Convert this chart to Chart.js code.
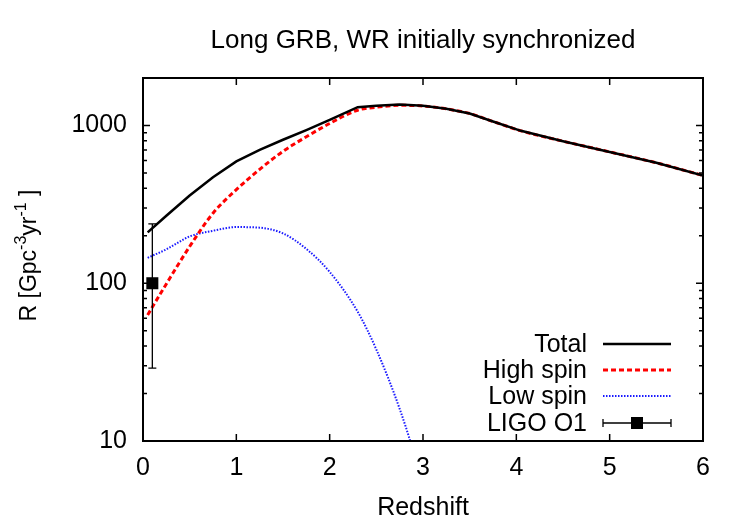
<!DOCTYPE html>
<html>
<head>
<meta charset="utf-8">
<script src="https://cdn.jsdelivr.net/npm/chart.js@4.4.0/dist/chart.umd.min.js"></script>
<style>
  html, body { margin: 0; padding: 0; background: #fff; }
  #wrap { width: 750px; height: 525px; }
</style>
</head>
<body>
<div id="wrap"><canvas id="myChart" width="750" height="525"></canvas></div>
<script>
// Redshift grid shared by the model curves
var redshift  = [0.05, 0.25, 0.5, 0.75, 1.0, 1.25, 1.5, 1.75, 2.0, 2.3, 2.5, 2.75, 3.0, 3.25, 3.5, 3.75, 4.05, 4.5, 5.0, 5.5, 6.0];
var totalRate = [210, 268, 360, 470, 592, 700, 812, 935, 1085, 1306, 1335, 1360, 1335, 1275, 1190, 1060, 925, 795, 680, 580, 482];
var highSpin  = [63, 99, 171, 278, 392, 527, 686, 848, 1030, 1250, 1305, 1342, 1330, 1275, 1190, 1060, 925, 795, 680, 580, 482];
var lowSpin   = [145, 164, 198, 215, 227, 225, 207, 165, 118, 66, 38, 16, 5.5, null, null, null, null, null, null, null, null];

// LIGO O1 point with its error bar
var ligoZ    = [0.1];
var ligoRate = [100];
var ligoLow  = [29];
var ligoHigh = [238];

var xTicks = [0, 1, 2, 3, 4, 5, 6];
var yTicks = [10, 100, 1000];

var fontName = '"Liberation Sans", Arial, sans-serif';

function pts(xs, ys) {
  var out = [];
  for (var i = 0; i < xs.length; i++) {
    out.push({ x: xs[i], y: ys[i] });
  }
  return out;
}

// marcos, ticks hacia dentro, barra de error y leyenda al estilo gnuplot
var gnuplotStyle = {
  id: 'gnuplotStyle',
  afterDatasetsDraw: function (chart) {
    var ctx = chart.ctx, x = chart.scales.x, y = chart.scales.y;
    ctx.save();
    ctx.strokeStyle = '#000';
    ctx.lineWidth = 1.3;
    for (var i = 0; i < ligoZ.length; i++) {
      var px = x.getPixelForValue(ligoZ[i]);
      var top = y.getPixelForValue(ligoHigh[i]);
      var bot = y.getPixelForValue(ligoLow[i]);
      ctx.beginPath();
      ctx.moveTo(px, top); ctx.lineTo(px, bot);
      ctx.moveTo(px - 4, top); ctx.lineTo(px + 4, top);
      ctx.moveTo(px - 4, bot); ctx.lineTo(px + 4, bot);
      ctx.stroke();
    }
    ctx.restore();
  },
  afterDraw: function (chart) {
    var ctx = chart.ctx, a = chart.chartArea;
    var x = chart.scales.x, y = chart.scales.y;
    ctx.save();
    ctx.strokeStyle = '#000';
    ctx.lineWidth = 2;
    ctx.strokeRect(a.left, a.top, a.right - a.left, a.bottom - a.top);

    ctx.lineWidth = 1.5;
    ctx.beginPath();
    xTicks.forEach(function (v) {
      var px = x.getPixelForValue(v);
      ctx.moveTo(px, a.bottom); ctx.lineTo(px, a.bottom - 7);
      ctx.moveTo(px, a.top); ctx.lineTo(px, a.top + 7);
    });
    yTicks.forEach(function (d) {
      for (var m = 1; m <= 9; m++) {
        var v = m * d;
        if (v >= y.max) break;
        var py = y.getPixelForValue(v);
        var len = (m === 1) ? 7 : 4;
        ctx.moveTo(a.left, py); ctx.lineTo(a.left + len, py);
        ctx.moveTo(a.right, py); ctx.lineTo(a.right - len, py);
      }
    });
    ctx.stroke();

    // titulo eje Y con superindices
    var parts = [['R [Gpc', 0], ['-3', 1], ['yr', 0], ['-1', 1], [' ]', 0]];
    var big = '23px ' + fontName, small = '16px ' + fontName;
    var total = 0;
    parts.forEach(function (p) {
      ctx.font = p[1] ? small : big;
      total += ctx.measureText(p[0]).width;
    });
    ctx.translate(36, (a.top + a.bottom) / 2 - 4);
    ctx.rotate(-Math.PI / 2);
    ctx.fillStyle = '#000';
    ctx.textBaseline = 'alphabetic';
    ctx.textAlign = 'left';
    var cx = -total / 2;
    parts.forEach(function (p) {
      ctx.font = p[1] ? small : big;
      ctx.fillText(p[0], cx, p[1] ? -10 : 0);
      cx += ctx.measureText(p[0]).width;
    });
    ctx.restore();

    // leyenda
    ctx.save();
    var rows = [344, 370, 396, 423];
    var textRight = 587, s0 = 603, s1 = 671;
    ctx.font = '25px ' + fontName;
    ctx.textAlign = 'right';
    ctx.textBaseline = 'middle';
    chart.data.datasets.forEach(function (ds, i) {
      var ry = rows[i];
      ctx.fillStyle = '#000';
      ctx.fillText(ds.label, textRight, ry + 1);
      ctx.beginPath();
      if (ds.type === 'scatter') {
        ctx.setLineDash([]);
        ctx.strokeStyle = '#000';
        ctx.lineWidth = 1.3;
        ctx.moveTo(s0, ry); ctx.lineTo(s1, ry);
        ctx.moveTo(s0, ry - 4); ctx.lineTo(s0, ry + 4);
        ctx.moveTo(s1, ry - 4); ctx.lineTo(s1, ry + 4);
        ctx.stroke();
        ctx.fillRect((s0 + s1) / 2 - 6, ry - 6, 12, 12);
      } else {
        ctx.setLineDash(ds.borderDash || []);
        ctx.strokeStyle = ds.borderColor;
        ctx.lineWidth = ds.borderWidth;
        ctx.moveTo(s0, ry); ctx.lineTo(s1, ry);
        ctx.stroke();
      }
    });
    ctx.restore();
  }
};

var ctx = document.getElementById('myChart');
var myChart = new Chart(ctx, {
  type: 'line',
  data: {
    datasets: [{
      label: 'Total',
      data: pts(redshift, totalRate),
      borderColor: '#000000',
      borderWidth: 2.5,
      pointRadius: 0,
      tension: 0
    }, {
      label: 'High spin',
      data: pts(redshift, highSpin),
      borderColor: '#ff0000',
      borderWidth: 3,
      borderDash: [5, 3],
      pointRadius: 0,
      cubicInterpolationMode: 'monotone'
    }, {
      label: 'Low spin',
      data: pts(redshift, lowSpin),
      borderColor: '#1a1aff',
      borderWidth: 2,
      borderDash: [1.5, 1.5],
      pointRadius: 0,
      spanGaps: false,
      cubicInterpolationMode: 'monotone'
    }, {
      type: 'scatter',
      label: 'LIGO O1',
      data: pts(ligoZ, ligoRate),
      pointStyle: 'rect',
      pointRadius: 8.5,
      backgroundColor: '#000',
      borderColor: '#000',
      borderWidth: 0
    }]
  },
  options: {
    responsive: false,
    animation: false,
    devicePixelRatio: 1,
    layout: { padding: { left: 0, right: 47, top: 0, bottom: 0 } },
    plugins: {
      legend: { display: false },
      tooltip: { enabled: false },
      title: {
        display: true,
        text: 'Long GRB, WR initially synchronized',
        color: '#000',
        fullSize: false,
        font: { family: fontName, size: 26, weight: 'normal' },
        padding: { top: 25, bottom: 21.8 }
      }
    },
    scales: {
      x: {
        type: 'linear',
        min: 0,
        max: 6,
        grid: { display: false, drawTicks: false },
        border: { display: false },
        afterBuildTicks: function (s) { s.ticks = xTicks.map(function (v) { return { value: v }; }); },
        afterFit: function (s) { s.height = 84; },
        ticks: {
          color: '#000',
          padding: 12,
          maxRotation: 0,
          font: { family: fontName, size: 25 }
        },
        title: {
          display: true,
          text: 'Redshift',
          color: '#000',
          font: { family: fontName, size: 25 },
          padding: { top: 0, bottom: 2 }
        }
      },
      y: {
        type: 'logarithmic',
        min: 10,
        max: 2000,
        grid: { display: false, drawTicks: false },
        border: { display: false },
        afterBuildTicks: function (s) { s.ticks = yTicks.map(function (v) { return { value: v }; }); },
        afterFit: function (s) { s.width = 143; },
        ticks: {
          color: '#000',
          padding: 16,
          font: { family: fontName, size: 25 },
          callback: function (v) { return String(v); }
        }
      }
    }
  },
  plugins: [gnuplotStyle]
});
</script>
</body>
</html>
